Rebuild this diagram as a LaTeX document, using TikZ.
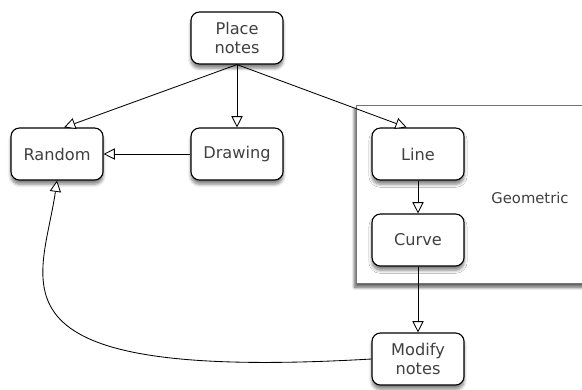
\documentclass[tikz,border=0pt]{standalone}
\usepackage{fontspec}
\setmainfont{DejaVu Sans}
\usetikzlibrary{arrows.meta}
\usetikzlibrary{shadows,shadows.blur}

\tikzset{
	box/.style={draw, thick, rounded corners=6pt, fill=white, align=center,
		minimum width=2.3cm, minimum height=1.3cm, text=black!75,
		font=\fontsize{11.5}{14}\selectfont,
		blur shadow={shadow xshift=0pt, shadow yshift=-3pt, shadow blur steps=6, shadow opacity=50}},
	arr/.style={-{Triangle[open, length=8pt, width=8pt, fill=white]}, semithick}
}

\begin{document}
\begin{tikzpicture}[x=0.025cm, y=-0.025cm]
	\useasboundingbox (0,0) rectangle (582,389);
	% container
	\draw[draw=black!55, fill=white, blur shadow={shadow xshift=-1pt, shadow yshift=-3pt, shadow blur steps=8, shadow opacity=65}]
		(356,105) rectangle (600,283);
	\node[text=black!75, font=\fontsize{10.5}{12}\selectfont] (geo) at (530,198) {Geometric};
	% nodes
	\node[box] (place) at (237,38) {Place\\notes};
	\node[box] (random) at (57,154) {Random};
	\node[box] (drawing) at (237,154) {Drawing};
	\node[box] (line) at (418,154) {Line};
	\node[box] (curve) at (418,240) {Curve};
	\node[box] (modify) at (418,359) {Modify\\notes};
	% edges
	\draw[arr] (place.south) -- ([xshift=5]random.north);
	\draw[arr] (place.south) -- (drawing.north);
	\draw[arr] (place.south) -- ([xshift=-8]line.north);
	\draw[arr] (drawing.west) -- (random.east);
	\draw[arr] (line.south) -- (curve.north);
	\draw[arr] (curve.south) -- (modify.north);
	\draw[arr] (modify.west) .. controls (-25,382) and (42,285) .. (random.south);
\end{tikzpicture}
\end{document}
